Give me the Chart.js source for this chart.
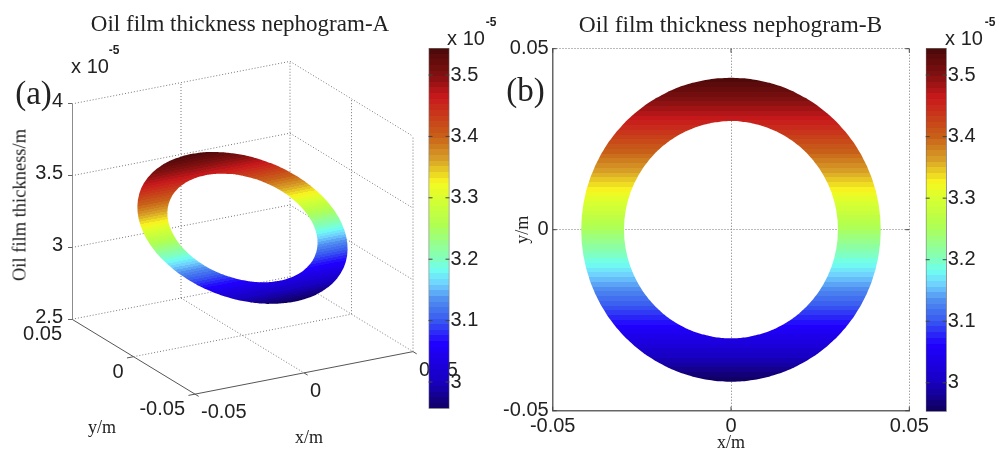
<!DOCTYPE html>
<html>
<head>
<meta charset="utf-8">
<title>Oil film thickness nephogram</title>
<script src="https://cdn.jsdelivr.net/npm/chart.js"></script>
<style>
  html, body { margin: 0; padding: 0; background: #fff; }
  #page { position: relative; width: 996px; height: 449px; overflow: hidden; background: #fff; }
  canvas { position: absolute; top: 0; }
  .txt { position: absolute; white-space: nowrap; color: #222; transform: translate(-50%, -50%); line-height: 1; }
</style>
</head>
<body>
<div id="page">
  <canvas id="film-a" width="500" height="449" style="left:0"></canvas>
  <canvas id="film-b" width="445" height="449" style="left:500px"></canvas>
  <canvas id="bar-a" width="60" height="449" style="left:425px"></canvas>
  <canvas id="bar-b" width="60" height="449" style="left:922px"></canvas>
</div>
<script>
// axis ticks
const xTicks = [-0.05, 0, 0.05];
const yTicks = [0.05, 0, -0.05];
const thicknessTicks = [2.5, 3, 3.5, 4];
const colorTicks = [3, 3.1, 3.2, 3.3, 3.4, 3.5];
const colorRangeA = [2.9565, 3.544];
const colorRangeB = [2.953, 3.544];

// ring outline, every 5 degrees (metres, and thickness in 1e-5 m)
const outerX = [0.042,0.04184,0.04136,0.04057,0.03947,0.03806,0.03637,0.03441,0.03217,0.0297,0.027,0.02409,0.021,0.01775,0.01436,0.01087,0.00729,0.00366,0,
  -0.00366,-0.00729,-0.01087,-0.01436,-0.01775,-0.021,-0.02409,-0.027,-0.0297,-0.03217,-0.03441,-0.03637,-0.03806,-0.03947,-0.04057,-0.04136,-0.04184,-0.042,
  -0.04184,-0.04136,-0.04057,-0.03947,-0.03806,-0.03637,-0.03441,-0.03217,-0.0297,-0.027,-0.02409,-0.021,-0.01775,-0.01436,-0.01087,-0.00729,-0.00366,0,
  0.00366,0.00729,0.01087,0.01436,0.01775,0.021,0.02409,0.027,0.0297,0.03217,0.03441,0.03637,0.03806,0.03947,0.04057,0.04136,0.04184,0.042];
const outerY = [0,0.00366,0.00729,0.01087,0.01436,0.01775,0.021,0.02409,0.027,0.0297,0.03217,0.03441,0.03637,0.03806,0.03947,0.04057,0.04136,0.04184,0.042,
  0.04184,0.04136,0.04057,0.03947,0.03806,0.03637,0.03441,0.03217,0.0297,0.027,0.02409,0.021,0.01775,0.01436,0.01087,0.00729,0.00366,0,
  -0.00366,-0.00729,-0.01087,-0.01436,-0.01775,-0.021,-0.02409,-0.027,-0.0297,-0.03217,-0.03441,-0.03637,-0.03806,-0.03947,-0.04057,-0.04136,-0.04184,-0.042,
  -0.04184,-0.04136,-0.04057,-0.03947,-0.03806,-0.03637,-0.03441,-0.03217,-0.0297,-0.027,-0.02409,-0.021,-0.01775,-0.01436,-0.01087,-0.00729,-0.00366,0];
const outerH = [3.2485,3.2743,3.2998,3.325,3.3496,3.3734,3.3963,3.418,3.4384,3.4575,3.4749,3.4906,3.5044,3.5163,3.5262,3.5339,3.5395,3.5429,3.544,
  3.5429,3.5395,3.5339,3.5262,3.5163,3.5044,3.4906,3.4749,3.4575,3.4384,3.418,3.3963,3.3734,3.3496,3.325,3.2998,3.2743,3.2485,
  3.2227,3.1972,3.172,3.1474,3.1236,3.1007,3.079,3.0586,3.0395,3.0221,3.0064,2.9926,2.9807,2.9708,2.9631,2.9575,2.9541,2.953,
  2.9541,2.9575,2.9631,2.9708,2.9807,2.9926,3.0064,3.0221,3.0395,3.0586,3.079,3.1007,3.1236,3.1474,3.172,3.1972,3.2227,3.2485];
const innerX = [0.03,0.02989,0.02954,0.02898,0.02819,0.02719,0.02598,0.02457,0.02298,0.02121,0.01928,0.01721,0.015,0.01268,0.01026,0.00776,0.00521,0.00261,0,
  -0.00261,-0.00521,-0.00776,-0.01026,-0.01268,-0.015,-0.01721,-0.01928,-0.02121,-0.02298,-0.02457,-0.02598,-0.02719,-0.02819,-0.02898,-0.02954,-0.02989,-0.03,
  -0.02989,-0.02954,-0.02898,-0.02819,-0.02719,-0.02598,-0.02457,-0.02298,-0.02121,-0.01928,-0.01721,-0.015,-0.01268,-0.01026,-0.00776,-0.00521,-0.00261,0,
  0.00261,0.00521,0.00776,0.01026,0.01268,0.015,0.01721,0.01928,0.02121,0.02298,0.02457,0.02598,0.02719,0.02819,0.02898,0.02954,0.02989,0.03];
const innerY = [0,0.00261,0.00521,0.00776,0.01026,0.01268,0.015,0.01721,0.01928,0.02121,0.02298,0.02457,0.02598,0.02719,0.02819,0.02898,0.02954,0.02989,0.03,
  0.02989,0.02954,0.02898,0.02819,0.02719,0.02598,0.02457,0.02298,0.02121,0.01928,0.01721,0.015,0.01268,0.01026,0.00776,0.00521,0.00261,0,
  -0.00261,-0.00521,-0.00776,-0.01026,-0.01268,-0.015,-0.01721,-0.01928,-0.02121,-0.02298,-0.02457,-0.02598,-0.02719,-0.02819,-0.02898,-0.02954,-0.02989,-0.03,
  -0.02989,-0.02954,-0.02898,-0.02819,-0.02719,-0.02598,-0.02457,-0.02298,-0.02121,-0.01928,-0.01721,-0.015,-0.01268,-0.01026,-0.00776,-0.00521,-0.00261,0];
const innerH = [3.2485,3.2669,3.2852,3.3031,3.3207,3.3377,3.3541,3.3696,3.3842,3.3978,3.4102,3.4214,3.4313,3.4398,3.4469,3.4524,3.4564,3.4588,3.4596,
  3.4588,3.4564,3.4524,3.4469,3.4398,3.4313,3.4214,3.4102,3.3978,3.3842,3.3696,3.3541,3.3377,3.3207,3.3031,3.2852,3.2669,3.2485,
  3.2301,3.2118,3.1939,3.1763,3.1593,3.1429,3.1274,3.1128,3.0992,3.0868,3.0756,3.0657,3.0572,3.0501,3.0446,3.0406,3.0382,3.0374,
  3.0382,3.0406,3.0446,3.0501,3.0572,3.0657,3.0756,3.0868,3.0992,3.1128,3.1274,3.1429,3.1593,3.1763,3.1939,3.2118,3.2301,3.2485];

// colormap as seen on the colorbar: thickness, colour
const mapValues = [3.544, 3.5, 3.464, 3.4, 3.362, 3.325, 3.3, 3.256, 3.2, 3.183, 3.159, 3.135, 3.1, 3.062, 3, 2.955];
const mapColors = ['#4a0808', '#801010', '#c8181c', '#c86018', '#d8a028', '#f8f820', '#d8ff30', '#b0ff50',
  '#80ffc0', '#70fff0', '#70d0ff', '#5090f0', '#3858f0', '#2000ff', '#1800c0', '#100060'];
const BANDS = 64;

const TEXT = '#222';
const AXIS = '#666';
const SANS = '"Liberation Sans", Arial, sans-serif';
const SERIF = '"Liberation Serif", "Times New Roman", serif';

function hexRgb(h) {
  return [1, 3, 5].map(i => parseInt(h.substr(i, 2), 16));
}

function colorAt(v) {
  let i = 0;
  while (i < mapValues.length - 2 && v < mapValues[i + 1]) i++;
  const t = Math.min(1, Math.max(0, (mapValues[i] - v) / (mapValues[i] - mapValues[i + 1])));
  const a = hexRgb(mapColors[i]), b = hexRgb(mapColors[i + 1]);
  const c = a.map((q, k) => Math.round(q + (b[k] - q) * t));
  return `rgb(${c[0]},${c[1]},${c[2]})`;
}

// stepped gradient, top of the range at (x0,y0), bottom at (x1,y1)
function bandGradient(ctx, x0, y0, x1, y1, range) {
  const g = ctx.createLinearGradient(x0, y0, x1, y1);
  for (let i = 0; i < BANDS; i++) {
    const c = colorAt(range[1] - (i + 0.5) / BANDS * (range[1] - range[0]));
    g.addColorStop(i / BANDS, c);
    g.addColorStop((i + 1) / BANDS, c);
  }
  return g;
}

// outer edge forwards, inner edge backwards, so the fill leaves a hole
function ringPolygon(toPoint) {
  const pts = outerX.map((x, i) => toPoint(x, outerY[i], outerH[i]));
  for (let i = innerX.length - 1; i >= 0; i--) pts.push(toPoint(innerX[i], innerY[i], innerH[i]));
  return pts;
}

// panel A has no 3D axes in Chart.js: map x,y,thickness onto a hidden x scale and the thickness scale
function project(x, y, h) {
  return {
    x: (x + 0.05) * 2180 + (0.05 - y) * 1230,
    y: h - (0.05 - y) * 5.215 + (x + 0.05) * 2.961
  };
}

function edge(a, b, style) {
  return Object.assign({
    data: [project(...a), project(...b)],
    showLine: true, pointRadius: 0, borderColor: '#777', borderWidth: 1, borderDash: [1, 2], fill: false
  }, style);
}

const SOLID = { borderDash: [], borderColor: '#555', borderWidth: 1 };
const datasetsA = [{
  data: ringPolygon(project),
  showLine: true, pointRadius: 0, borderWidth: 0, tension: 0.01, fill: 'shape',
  backgroundColor: (c) => {
    const { chart } = c;
    if (!chart.chartArea) return '#888';
    const sx = chart.scales.x, sy = chart.scales.y;
    const px = (p) => [sx.getPixelForValue(p.x), sy.getPixelForValue(p.y)];
    const hi = px(project(0, 0.042, colorRangeB[1])), lo = px(project(0, -0.042, colorRangeB[0]));
    const d1 = px(project(-0.05, 0, 3)), d2 = px(project(0.05, 0, 3));
    // colour stays constant along the x direction of the box
    let nx = -(d2[1] - d1[1]), ny = d2[0] - d1[0];
    const len = Math.hypot(nx, ny);
    nx /= len; ny /= len;
    const d = (lo[0] - hi[0]) * nx + (lo[1] - hi[1]) * ny;
    return bandGradient(chart.ctx, hi[0], hi[1], hi[0] + nx * d, hi[1] + ny * d, colorRangeB);
  }
}];
// walls
thicknessTicks.forEach(h => {
  datasetsA.push(edge([-0.05, 0.05, h], [0.05, 0.05, h]));
  datasetsA.push(edge([0.05, 0.05, h], [0.05, -0.05, h]));
});
datasetsA.push(edge([0, 0.05, 2.5], [0, 0.05, 4]));
datasetsA.push(edge([0.05, 0.05, 2.5], [0.05, 0.05, 4]));
datasetsA.push(edge([0.05, 0, 2.5], [0.05, 0, 4]));
datasetsA.push(edge([0.05, -0.05, 2.5], [0.05, -0.05, 4]));
// floor
datasetsA.push(edge([0, 0.05, 2.5], [0, -0.05, 2.5]));
datasetsA.push(edge([-0.05, 0, 2.5], [0.05, 0, 2.5]));
// solid axes and their ticks
datasetsA.push(edge([-0.05, 0.05, 2.5], [-0.05, 0.05, 4], { borderDash: [], borderColor: '#666', borderWidth: 1.5 }));
datasetsA.push(edge([-0.05, 0.05, 2.5], [-0.05, -0.05, 2.5], SOLID));
datasetsA.push(edge([-0.05, -0.05, 2.5], [0.05, -0.05, 2.5], SOLID));
xTicks.forEach(x => datasetsA.push(edge([x, -0.05, 2.5], [x, -0.053, 2.5], SOLID)));
yTicks.forEach(y => datasetsA.push(edge([-0.05, y, 2.5], [-0.053, y, 2.5], SOLID)));

// tick labels along the oblique axes
const obliqueLabels = {
  id: 'obliqueLabels',
  afterDraw(chart) {
    const { ctx, scales: { x: sx, y: sy } } = chart;
    ctx.save();
    ctx.font = '20px ' + SANS;
    ctx.fillStyle = TEXT;
    ctx.textBaseline = 'middle';
    ctx.textAlign = 'left';
    xTicks.forEach(x => {
      const p = project(x, -0.05, 2.5);
      ctx.fillText(String(x), sx.getPixelForValue(p.x) + 6, sy.getPixelForValue(p.y) + 18.5);
    });
    ctx.textAlign = 'right';
    yTicks.forEach(y => {
      const p = project(-0.05, y, 2.5);
      ctx.fillText(String(y), sx.getPixelForValue(p.x) - 10, sy.getPixelForValue(p.y) + 15.5);
    });
    ctx.restore();
  }
};

// short ticks pointing into the plot, both sides, like the original figure
const innerTicks = {
  id: 'innerTicks',
  afterDatasetsDraw(chart) {
    const { ctx, chartArea: a, scales } = chart;
    ctx.save();
    ctx.strokeStyle = '#444';
    ctx.lineWidth = 1;
    ctx.beginPath();
    const n = 4;
    if (scales.y && scales.y.ticks) scales.y.ticks.forEach(t => {
      const y = scales.y.getPixelForValue(t.value);
      ctx.moveTo(a.left, y); ctx.lineTo(a.left + n, y);
      ctx.moveTo(a.right, y); ctx.lineTo(a.right - n, y);
    });
    if (scales.x && scales.x.type === 'linear') scales.x.ticks.forEach(t => {
      const x = scales.x.getPixelForValue(t.value);
      ctx.moveTo(x, a.bottom); ctx.lineTo(x, a.bottom - n);
      ctx.moveTo(x, a.top); ctx.lineTo(x, a.top + n);
    });
    ctx.stroke();
    ctx.restore();
  }
};

const common = {
  responsive: false,
  animation: false,
  events: [],
  plugins: { legend: { display: false }, tooltip: { enabled: false }, title: { display: false } }
};

const tickFont = { family: SANS, size: 20 };

new Chart(document.getElementById('film-a'), {
  type: 'scatter',
  data: { datasets: datasetsA },
  plugins: [obliqueLabels],
  options: Object.assign({}, common, {
    layout: { padding: 0 },
    scales: {
      x: { type: 'linear', display: false, min: 0, max: 428 },
      y: {
        type: 'linear',
        min: 1.7147,
        max: 4.6052,
        afterBuildTicks: s => { s.ticks = thicknessTicks.map(value => ({ value })); },
        afterFit: s => { s.width = 72; },
        border: { display: false },
        grid: { drawOnChartArea: false, tickLength: 4, color: AXIS },
        ticks: { font: tickFont, color: TEXT, padding: 5, labelOffset: -2, autoSkip: false, callback: v => String(v) }
      }
    }
  })
});

new Chart(document.getElementById('film-b'), {
  type: 'scatter',
  data: {
    datasets: [{
      data: ringPolygon((x, y) => ({ x, y })),
      showLine: true, pointRadius: 0, borderWidth: 0, tension: 0.01, fill: 'shape',
      backgroundColor: (c) => {
        const { chart } = c;
        if (!chart.chartArea) return '#888';
        const sy = chart.scales.y;
        return bandGradient(chart.ctx, 0, sy.getPixelForValue(0.042), 0, sy.getPixelForValue(-0.042), colorRangeB);
      }
    }]
  },
  plugins: [innerTicks],
  options: Object.assign({}, common, {
    layout: { padding: { top: 48.7, right: 35.7 } },
    scales: {
      x: {
        type: 'linear',
        min: -0.05,
        max: 0.05,
        afterBuildTicks: s => { s.ticks = xTicks.map(value => ({ value })); },
        afterFit: s => { s.height = 38.3; },
        title: { display: true, text: 'x/m', font: { family: SERIF, size: 18 }, color: TEXT, padding: { top: 0, bottom: -5 } },
        border: { color: AXIS, width: 1.5, dash: [1, 2] },
        grid: { color: '#777', drawTicks: false },
        ticks: { font: tickFont, color: TEXT, padding: 4, maxRotation: 0, autoSkip: false, callback: v => String(v) }
      },
      y: {
        type: 'linear',
        min: -0.05,
        max: 0.05,
        afterBuildTicks: s => { s.ticks = yTicks.map(value => ({ value })); },
        afterFit: s => { s.width = 52.7; },
        title: { display: true, text: 'y/m', font: { family: SERIF, size: 18 }, color: TEXT, padding: { top: 12, bottom: 0 } },
        border: { color: AXIS, width: 1.5, dash: [1, 2] },
        grid: { color: '#777', drawTicks: false },
        ticks: { font: tickFont, color: TEXT, padding: 4, autoSkip: false, callback: v => String(v) }
      }
    }
  })
});

function colorBar(id, range, padLeft, padTop, padBottom, axisWidth) {
  new Chart(document.getElementById(id), {
    type: 'bar',
    data: {
      labels: ['thickness'],
      datasets: [{
        data: [range],
        barPercentage: 1,
        categoryPercentage: 1,
        borderSkipped: false,
        borderColor: '#666',
        borderWidth: 1,
        backgroundColor: (c) => {
          const { chart } = c;
          if (!chart.chartArea) return '#888';
          const sy = chart.scales.y;
          return bandGradient(chart.ctx, 0, sy.getPixelForValue(range[1]), 0, sy.getPixelForValue(range[0]), range);
        }
      }]
    },
    plugins: [innerTicks],
    options: Object.assign({}, common, {
      layout: { padding: { left: padLeft, top: padTop, bottom: padBottom } },
      scales: {
        x: { type: 'category', display: false },
        y: {
          type: 'linear',
          position: 'right',
          min: range[0],
          max: range[1],
          afterBuildTicks: s => { s.ticks = colorTicks.map(value => ({ value })); },
          afterFit: s => { s.width = axisWidth; },
          border: { display: false },
          grid: { display: false, drawTicks: false },
          ticks: { font: tickFont, color: TEXT, padding: 1, autoSkip: false, callback: v => String(v) }
        }
      }
    })
  });
}
colorBar('bar-a', colorRangeA, 3.5, 48, 40.3, 35.5);
colorBar('bar-b', colorRangeB, 3.7, 48, 37.3, 35.3);

// titles and the labels that sit outside any axis
const pageText = [
  { t: 'Oil film thickness nephogram-A', x: 240, y: 24, f: '23px ' + SERIF },
  { t: 'Oil film thickness nephogram-B', x: 730.5, y: 24, f: '23.5px ' + SERIF },
  { t: '(a)', x: 33.5, y: 93, f: '33px ' + SERIF },
  { t: '(b)', x: 525.5, y: 90, f: '33px ' + SERIF },
  { t: 'x 10', x: 90, y: 66, f: '20px ' + SANS },
  { t: '-5', x: 114, y: 50, f: 'bold 12px ' + SANS },
  { t: 'x 10', x: 466, y: 38, f: '20px ' + SANS },
  { t: '-5', x: 491, y: 22, f: 'bold 12px ' + SANS },
  { t: 'x 10', x: 964, y: 38, f: '20px ' + SANS },
  { t: '-5', x: 990, y: 22, f: 'bold 12px ' + SANS },
  { t: 'Oil film thickness/m', x: 20, y: 205, f: '18.5px ' + SERIF, r: -90 },
  { t: 'y/m', x: 102, y: 427, f: '18px ' + SERIF },
  { t: 'x/m', x: 309, y: 437, f: '18px ' + SERIF }
];
const page = document.getElementById('page');
pageText.forEach(l => {
  const el = document.createElement('div');
  el.className = 'txt';
  el.textContent = l.t;
  el.style.left = l.x + 'px';
  el.style.top = l.y + 'px';
  el.style.font = l.f;
  if (l.r) el.style.transform = `translate(-50%, -50%) rotate(${l.r}deg)`;
  page.appendChild(el);
});
</script>
</body>
</html>
